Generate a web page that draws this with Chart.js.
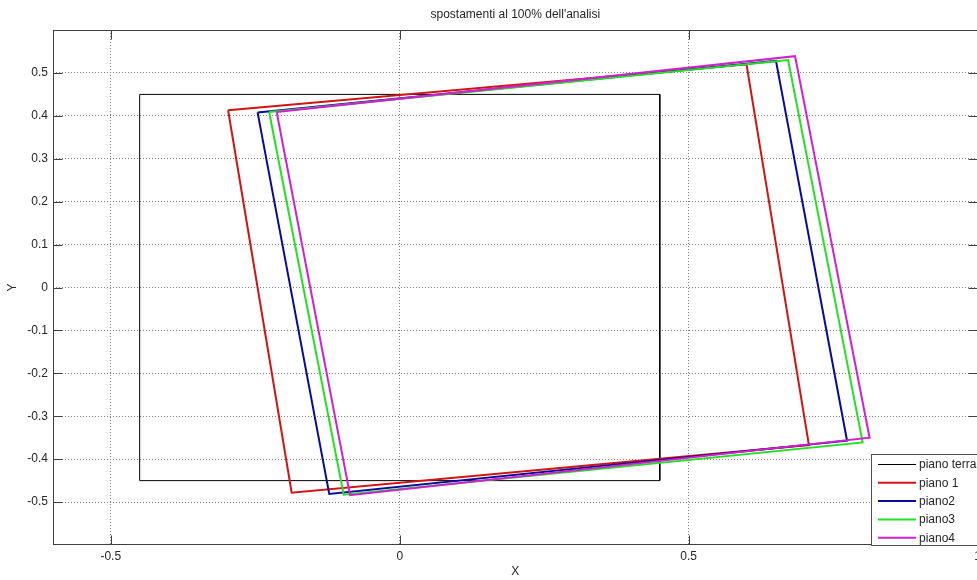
<!DOCTYPE html>
<html>
<head>
<meta charset="utf-8">
<title>spostamenti al 100% dell'analisi</title>
<script src="https://cdn.jsdelivr.net/npm/chart.js@4.4.1/dist/chart.umd.min.js"></script>
<style>
  html, body { margin: 0; padding: 0; background: #fff; overflow: hidden; }
  #wrap { position: relative; width: 985px; height: 580px; }
</style>
</head>
<body>
<div id="wrap"><canvas id="chart"></canvas></div>
<script>
// tick labels
const xTicks = [-0.5, 0, 0.5, 1];
const yTicks = [-0.5, -0.4, -0.3, -0.2, -0.1, 0, 0.1, 0.2, 0.3, 0.4, 0.5];

// series (closed outlines, corners)
const seriesNames = ['piano terra', 'piano 1', 'piano2', 'piano3', 'piano4'];
const pianoTerraX = [-0.45, 0.45, 0.45, -0.45, -0.45];
const pianoTerraY = [0.45, 0.45, -0.45, -0.45, 0.45];
const piano1X = [-0.297, 0.600, 0.708, -0.187, -0.297];
const piano1Y = [0.413, 0.520, -0.367, -0.478, 0.413];
const piano2X = [-0.246, 0.651, 0.774, -0.122, -0.246];
const piano2Y = [0.408, 0.528, -0.357, -0.481, 0.408];
const piano3X = [-0.226, 0.672, 0.801, -0.097, -0.226];
const piano3Y = [0.409, 0.530, -0.361, -0.483, 0.409];
const piano4X = [-0.213, 0.684, 0.813, -0.086, -0.213];
const piano4Y = [0.409, 0.539, -0.350, -0.484, 0.409];

const FONT = '"Liberation Sans", Arial, Helvetica, sans-serif';
const TXT = '#262626';

const pts = (xs, ys) => xs.map((x, i) => ({x: x, y: ys[i]}));
const colors = ['#000000', '#d01414', '#0a0a9a', '#22e022', '#d020d0'];
const widths = [1, 2, 2, 2, 2];
const series = [
  pts(pianoTerraX, pianoTerraY),
  pts(piano1X, piano1Y),
  pts(piano2X, piano2Y),
  pts(piano3X, piano3Y),
  pts(piano4X, piano4Y)
];

const datasets = series.map((d, i) => ({
  label: seriesNames[i],
  data: d,
  showLine: true,
  borderColor: colors[i],
  borderWidth: widths[i],
  pointRadius: 0,
  pointHoverRadius: 0,
  tension: 0,
  fill: false,
  order: series.length - i   // later series on top, like the original
}));

// frame, inward ticks, title, axis labels and legend box
const decor = {
  id: 'decor',
  afterDatasetsDraw(chart) {
    const {ctx, chartArea: a, scales: {x, y}} = chart;
    ctx.save();
    ctx.strokeStyle = '#404040';
    ctx.lineWidth = 1;
    const L = Math.round(a.left) + 0.5, R = Math.round(a.right) - 0.5;
    const T = Math.round(a.top) + 0.5, B = Math.round(a.bottom) - 0.5;
    ctx.strokeRect(L, T, R - L, B - T);
    const tl = 9;
    ctx.beginPath();
    xTicks.forEach(v => {
      const px = Math.round(x.getPixelForValue(v)) + 0.5;
      ctx.moveTo(px, B); ctx.lineTo(px, B - tl);
      ctx.moveTo(px, T); ctx.lineTo(px, T + tl);
    });
    yTicks.forEach(v => {
      const py = Math.round(y.getPixelForValue(v)) + 0.5;
      ctx.moveTo(L, py); ctx.lineTo(L + tl, py);
      ctx.moveTo(R, py); ctx.lineTo(R - tl, py);
    });
    ctx.stroke();

    // title and axis labels
    ctx.fillStyle = TXT;
    ctx.textAlign = 'center';
    ctx.textBaseline = 'middle';
    const cx = (a.left + a.right) / 2;
    ctx.font = '12px ' + FONT;
    ctx.fillText("spostamenti al 100% dell'analisi", cx, 15);
    ctx.fillText('X', cx, 572);
    ctx.save();
    ctx.translate(13, (a.top + a.bottom) / 2);
    ctx.rotate(-Math.PI / 2);
    ctx.fillText('Y', 0, 0);
    ctx.restore();

    // legend
    const lx = 871.5, ly = 454.5, lw = 120, lh = 91;
    ctx.fillStyle = '#ffffff';
    ctx.fillRect(lx, ly, lw, lh);
    ctx.strokeStyle = '#505050';
    ctx.lineWidth = 1;
    ctx.strokeRect(lx, ly, lw, lh);
    ctx.textAlign = 'left';
    chart.data.datasets.forEach((ds, i) => {
      const ry = 464.5 + i * 18.3;
      ctx.strokeStyle = ds.borderColor;
      ctx.lineWidth = ds.borderWidth;
      ctx.beginPath();
      ctx.moveTo(878, ry); ctx.lineTo(916, ry);
      ctx.stroke();
      ctx.fillStyle = TXT;
      ctx.fillText(ds.label, 919, ry + 0.5);
    });
    ctx.restore();
  }
};

new Chart(document.getElementById('chart'), {
  type: 'scatter',
  data: {datasets: datasets},
  options: {
    responsive: true,
    maintainAspectRatio: false,
    animation: false,
    layout: {padding: {top: 30, right: 5, bottom: 0, left: 0}},
    plugins: {legend: {display: false}, tooltip: {enabled: false}, title: {display: false}},
    scales: {
      x: {
        type: 'linear',
        min: -0.6,
        max: 1.0,
        afterBuildTicks: s => { s.ticks = xTicks.map(v => ({value: v})); },
        afterFit: s => { s.height = 35; },
        ticks: {
          color: TXT,
          font: {family: FONT, size: 12},
          padding: 4,
          maxRotation: 0,
          callback: v => String(Number(v.toFixed(1)))
        },
        grid: {color: '#808080', lineWidth: 1, drawTicks: false},
        border: {display: false, dash: [1, 2]}
      },
      y: {
        type: 'linear',
        min: -0.6,
        max: 0.6,
        afterBuildTicks: s => { s.ticks = yTicks.map(v => ({value: v})); },
        afterFit: s => { s.width = 53; },
        ticks: {
          color: TXT,
          font: {family: FONT, size: 12},
          padding: 5,
          callback: v => String(Number(v.toFixed(1)))
        },
        grid: {color: '#808080', lineWidth: 1, drawTicks: false},
        border: {display: false, dash: [1, 2]}
      }
    }
  },
  plugins: [decor]
});
</script>
</body>
</html>
